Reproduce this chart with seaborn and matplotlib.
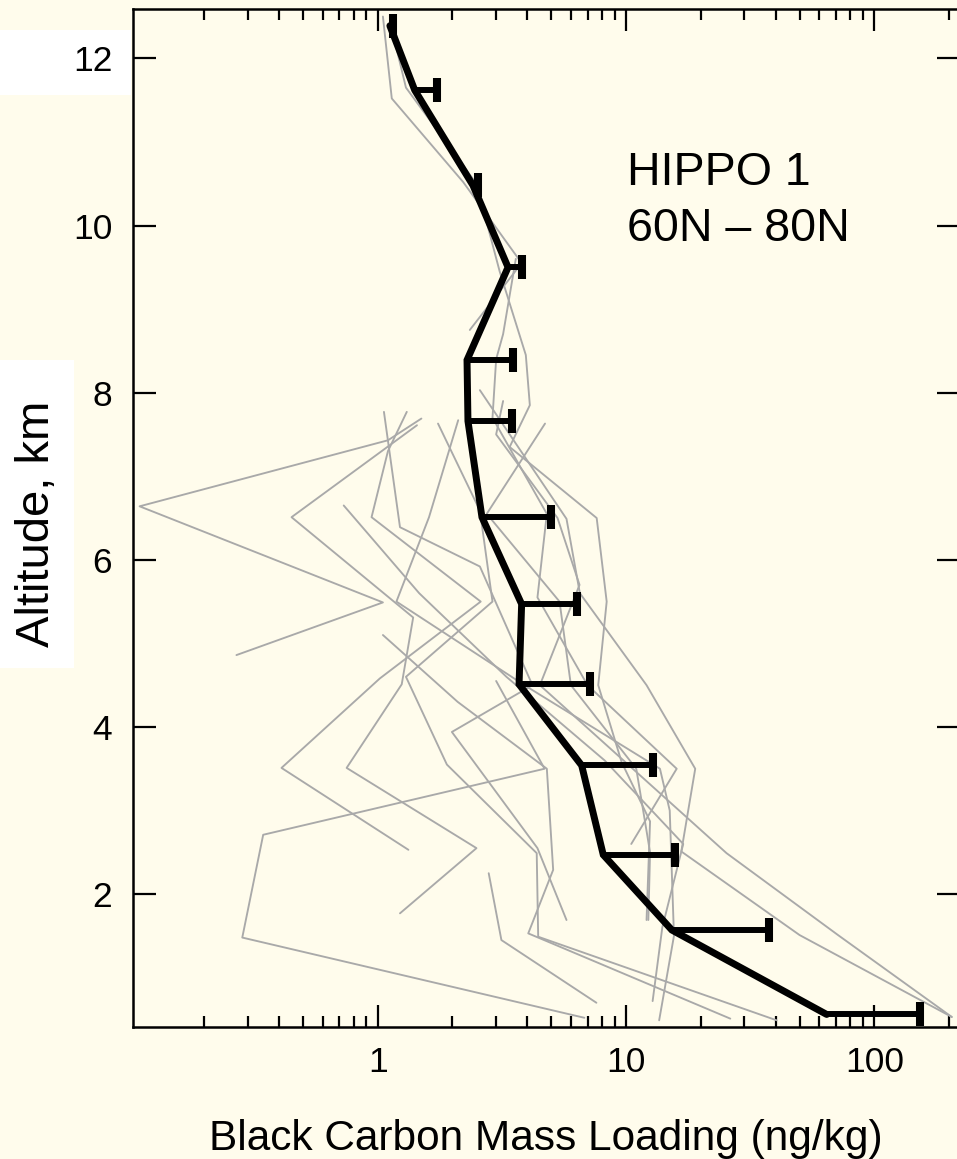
import numpy as np
import matplotlib
matplotlib.use("Agg")
import matplotlib.pyplot as plt
import seaborn as sns
from matplotlib.patches import Rectangle
from matplotlib.ticker import LogLocator, NullFormatter

# mean profile (altitude km, BC ng/kg) and upper error bound
mean_alt = [12.39, 11.62, 10.48, 9.50, 8.39, 7.66, 6.51, 5.47, 4.51, 3.54, 2.47, 1.57, 0.56]
mean_bc = [1.12, 1.41, 2.42, 3.35, 2.29, 2.31, 2.63, 3.80, 3.71, 6.63, 8.1, 15.3, 64.3]
upper_bc = [1.15, 1.73, 2.53, 3.81, 3.51, 3.47, 5.01, 6.33, 7.16, 12.8, 15.7, 37.8, 152.0]

# individual profiles (grey)
p01_alt = [12.5, 11.52, 10.52, 9.55, 8.75]
p01_bc = [1.05, 1.14, 2.21, 3.80, 2.35]
p02_alt = [12.35, 11.65, 10.5, 9.45, 8.45, 7.85, 7.35, 6.5, 5.5, 4.5, 3.58, 2.87, 1.69]
p02_bc = [1.14, 1.30, 2.50, 3.10, 3.95, 4.10, 3.40, 7.62, 8.36, 7.73, 9.60, 12.5, 12.1]
p03_alt = [9.6, 8.7, 8.4, 7.7, 6.55, 5.55, 4.5, 3.5, 2.6]
p03_bc = [3.6, 3.2, 3.0, 2.9, 4.8, 4.4, 7.0, 16.0, 10.5]
p04_alt = [7.9, 7.5, 6.5, 5.7, 4.5, 2.49, 1.51, 0.53]
p04_bc = [3.2, 3.0, 5.3, 6.5, 4.5, 25.4, 71.4, 205.0]
p05_alt = [7.69, 7.43, 6.64, 5.49, 4.86]
p05_bc = [1.50, 1.10, 0.11, 1.05, 0.27]
p06_alt = [7.61, 6.51, 5.31, 4.51, 3.51, 2.55, 1.77]
p06_bc = [1.44, 0.45, 1.39, 1.25, 0.75, 2.50, 1.23]
p07_alt = [7.77, 7.3, 6.51, 5.5, 4.58, 3.51, 2.53]
p07_bc = [1.31, 1.10, 0.945, 2.6, 1.02, 0.41, 1.33]
p08_alt = [7.67, 6.51, 5.5, 4.5, 3.5, 3.0, 1.5, 0.49]
p08_bc = [2.11, 1.61, 1.19, 3.9, 13.7, 15.0, 15.6, 13.6]
p09_alt = [7.63, 6.59, 5.5, 4.6, 3.55, 2.49, 1.49, 0.49]
p09_bc = [1.75, 2.58, 2.9, 1.3, 1.9, 4.37, 4.43, 40.4]
p10_alt = [7.77, 6.39, 5.92, 4.5, 3.94, 2.55, 1.69]
p10_bc = [1.06, 1.23, 2.58, 4.2, 1.99, 4.4, 5.76]
p11_alt = [4.55, 3.5, 2.71, 1.48, 0.52]
p11_bc = [3.0, 4.7, 0.346, 0.285, 6.8]
p12_alt = [5.1, 4.3, 3.5, 2.29, 1.53, 0.51]
p12_bc = [1.05, 2.1, 4.8, 5.09, 4.04, 26.3]
p13_alt = [7.63, 6.55, 5.5, 4.5, 3.5, 2.5, 1.69]
p13_bc = [4.72, 2.75, 5.4, 6.0, 11.0, 12.5, 12.3]
p14_alt = [2.25, 1.45, 0.70]
p14_bc = [2.8, 3.15, 7.6]
p15_alt = [6.65, 5.6, 4.6, 3.6, 2.6, 1.6, 0.72]
p15_bc = [0.73, 1.47, 3.3, 8.2, 17.0, 14.0, 12.8]
p16_alt = [8.03, 6.49, 5.6, 4.5, 3.5, 2.51, 1.51, 0.53]
p16_bc = [2.58, 5.76, 6.52, 12.1, 19.0, 16.7, 50.0, 205.0]

profiles = [(p01_alt, p01_bc), (p02_alt, p02_bc), (p03_alt, p03_bc), (p04_alt, p04_bc),
            (p05_alt, p05_bc), (p06_alt, p06_bc), (p07_alt, p07_bc), (p08_alt, p08_bc),
            (p09_alt, p09_bc), (p10_alt, p10_bc), (p11_alt, p11_bc), (p12_alt, p12_bc),
            (p13_alt, p13_bc), (p14_alt, p14_bc), (p15_alt, p15_bc), (p16_alt, p16_bc)]

xticks = [1, 10, 100]
xtick_labels = ['1', '10', '100']
yticks = [2, 4, 6, 8, 10, 12]

bg = '#fffcec'
grey = '#a9a9a9'

sns.set_style('ticks')
plt.rcParams['font.family'] = ['Liberation Sans', 'DejaVu Sans']
plt.rcParams['text.color'] = 'black'
plt.rcParams['axes.labelcolor'] = 'black'
plt.rcParams['xtick.color'] = 'black'
plt.rcParams['ytick.color'] = 'black'

fig = plt.figure(figsize=(9.57, 11.59), dpi=100, facecolor=bg)
ax = fig.add_axes([0.139, 0.1139, 0.864, 0.8783])
ax.set_facecolor(bg)
ax.set_xscale('log')

# white blocks behind the "12" label and the y label (as in the source image)
fig.patches.append(Rectangle((0, 0.918), 0.137, 0.0561, transform=fig.transFigure,
                             facecolor='white', edgecolor='none', zorder=-1))
fig.patches.append(Rectangle((0, 0.4236), 0.0773, 0.2657, transform=fig.transFigure,
                             facecolor='white', edgecolor='none', zorder=-1))

for alt, bc in profiles:
    sns.lineplot(x=bc, y=alt, sort=False, estimator=None, color=grey, lw=1.35, ax=ax, zorder=1)

sns.lineplot(x=mean_bc, y=mean_alt, sort=False, estimator=None, color='black', lw=5.0,
             ax=ax, zorder=3, solid_joinstyle='miter')

err = np.array(upper_bc) - np.array(mean_bc)
eb = ax.errorbar(mean_bc, mean_alt, xerr=[np.zeros(len(err)), err], fmt='none',
                 ecolor='black', elinewidth=4.3, capsize=8.3, capthick=5.8, zorder=3)
eb[1][0].set_visible(False)

ax.set_xlim(0.1035, 221)
ax.set_ylim(0.41, 12.59)

ax.set_xticks(xticks)
ax.set_xticklabels(xtick_labels)
ax.xaxis.set_minor_locator(LogLocator(base=10, subs=np.arange(2, 10)))
ax.xaxis.set_minor_formatter(NullFormatter())
ax.set_yticks(yticks)
ax.set_yticklabels([str(v) for v in yticks])

ax.tick_params(axis='x', which='major', direction='in', length=15.8, width=1.6,
               top=True, bottom=True, labelsize=25.5, pad=14, colors='black')
ax.tick_params(axis='x', which='minor', direction='in', length=8, width=1.6,
               top=True, bottom=True, colors='black')
ax.tick_params(axis='y', which='major', direction='in', length=16.5, width=1.6,
               left=True, right=True, labelsize=25.5, pad=15, colors='black')
ax.tick_params(axis='y', which='minor', left=False, right=False)

for s in ax.spines.values():
    s.set_linewidth(1.8)
    s.set_color('black')

ax.set_xlabel('Black Carbon Mass Loading (ng/kg)', fontsize=30.5, color='black')
ax.xaxis.label.set_va('baseline')
ax.xaxis.set_label_coords(0.4988, -0.1208)
ax.set_ylabel('Altitude, km', fontsize=34, color='black')
ax.yaxis.label.set_va('center')
ax.yaxis.label.set_ha('center')
ax.yaxis.set_label_coords(-0.116, 0.494)

ax.text(10.07, 10.48, 'HIPPO 1', fontsize=33.5, va='baseline', ha='left', color='black')
ax.text(10.07, 9.81, '60N \u2013 80N', fontsize=33.5, va='baseline', ha='left', color='black')

fig.savefig('out.png', dpi=100, facecolor=bg)
